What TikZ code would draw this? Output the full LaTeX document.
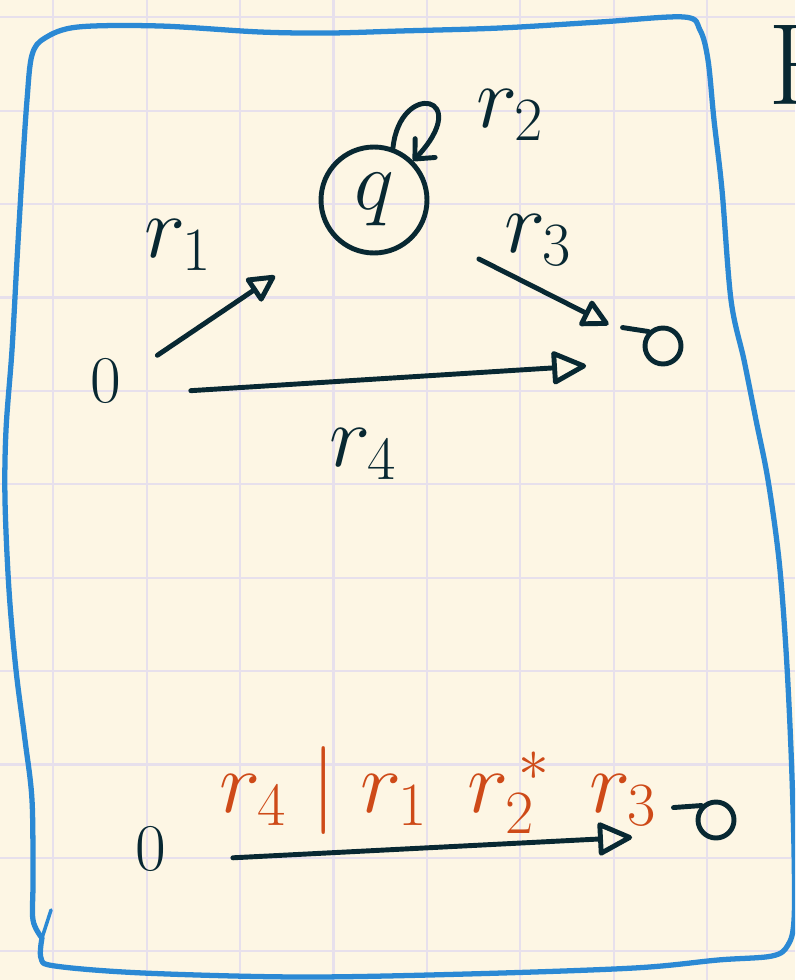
\RequirePackage{fix-cm}
\documentclass[tikz,border=0pt]{standalone}
\usetikzlibrary{arrows.meta}
\definecolor{papel}{RGB}{253,246,228}
\definecolor{grade}{RGB}{231,224,236}
\definecolor{azul}{RGB}{43,137,212}
\definecolor{tinta}{RGB}{8,40,50}
\definecolor{laranja}{RGB}{206,74,24}

\begin{document}
\begin{tikzpicture}[x=0.02cm, y=-0.02cm,
    traco/.style={draw=tinta, line width=2.8pt, line cap=round, line join=round},
    seta/.style={traco, -{Triangle[open, round, length=0.75cm, width=0.7cm]}},
    setinha/.style={traco, -{Triangle[open, round, length=0.6cm, width=0.6cm]}},
    rotulo/.style={text=tinta, font=\fontsize{50}{60}\selectfont},
    estado/.style={text=tinta, font=\fontsize{38}{44}\selectfont},
    aceita/.style={traco, circle, minimum size=0.72cm, inner sep=0pt}]
    % folha quadriculada
    \clip (0,0) rectangle (795,980);
    \fill[papel] (0,0) rectangle (795,980);
    \foreach \i in {0,...,8} \draw[grade, line width=1.2pt] ({53.3+93.4*\i},0) -- ++(0,980);
    \foreach \j in {0,...,10} \draw[grade, line width=1.2pt] (0,{17.3+93.4*\j}) -- ++(795,0);
    % moldura azul
    \draw[azul, line width=3pt, line cap=round, line join=round] plot[smooth, tension=0.55] coordinates {
        (42,938) (41,958) (55,966) (143,973) (300,977) (467,974) (634,968) (718,960)
        (772,956) (788,945) (794,920) (794,850) (791,750) (786,650) (779,560) (768,480)
        (756,420) (744,360) (731,300) (722,190) (714,120) (708,60) (700,30) (684,17)
        (600,22) (500,28) (400,31) (330,33) (260,32) (160,26) (78,27) (45,38) (32,55)
        (27,100) (22,175) (17,260) (12,350) (6,430) (5,500) (9,590) (16,670) (25,740)
        (32,800) (33,880) (33,920) (42,938)};
    \draw[azul, line width=2pt, line cap=round] (42,938) -- (51,910);
    % letra cortada na margem
    \node[text=tinta, font=\fontsize{66}{70}\selectfont, anchor=base west, inner sep=0pt] (letraF) at (768,105) {F};
    % automato: estados
    \node[estado] (s) at (106,381) {0};
    \node[traco, circle, minimum size=2.12cm, inner sep=0pt, text=tinta, font=\fontsize{48}{56}\selectfont] (q) at (374,200) {$q$};
    \node[aceita] (f) at (663,346) {};
    \draw[traco] (f.north west) -- ++(-26,-4);
    % transicoes
    \draw[setinha, shorten <=1.24cm, shorten >=2.39cm] ([yshift=-0.18cm]s.center) -- ([yshift=-0.18cm]q.center);
    \draw[traco, -{Straight Barb[round, length=0.3cm, width=0.55cm]}] (q.70) .. controls (400,80) and (475,95) .. (q.45);
    \draw[setinha, shorten <=2.35cm, shorten >=1.22cm] ([yshift=-0.12cm]q.center) -- ([yshift=-0.12cm]f.center);
    \draw[seta, shorten <=1.7cm, shorten >=1.54cm] ([yshift=-0.3cm]s.center) -- ([yshift=-0.3cm]f.center);
    \node[rotulo] (r1) at (178,245) {$r_1$};
    \node[rotulo] (r2) at (510,115) {$r_2$};
    \node[rotulo] (r3) at (538,240) {$r_3$};
    \node[rotulo] (r4) at (363,454) {$r_4$};
    % automato reduzido
    \node[estado] (s2) at (151,849) {0};
    \node[aceita] (f2) at (716,820) {};
    \draw[traco] (f2.north west) -- ++(-28,2);
    \draw[seta, shorten <=1.64cm, shorten >=1.68cm] ([yshift=-0.26cm]s2.center) -- ([yshift=-0.26cm]f2.center);
    \node[rotulo, text=laranja, anchor=base] (expr) at (438,812) {$r_4 \mid r_1\;\, r_2^{\,*}\;\, r_3$};
\end{tikzpicture}
\end{document}
